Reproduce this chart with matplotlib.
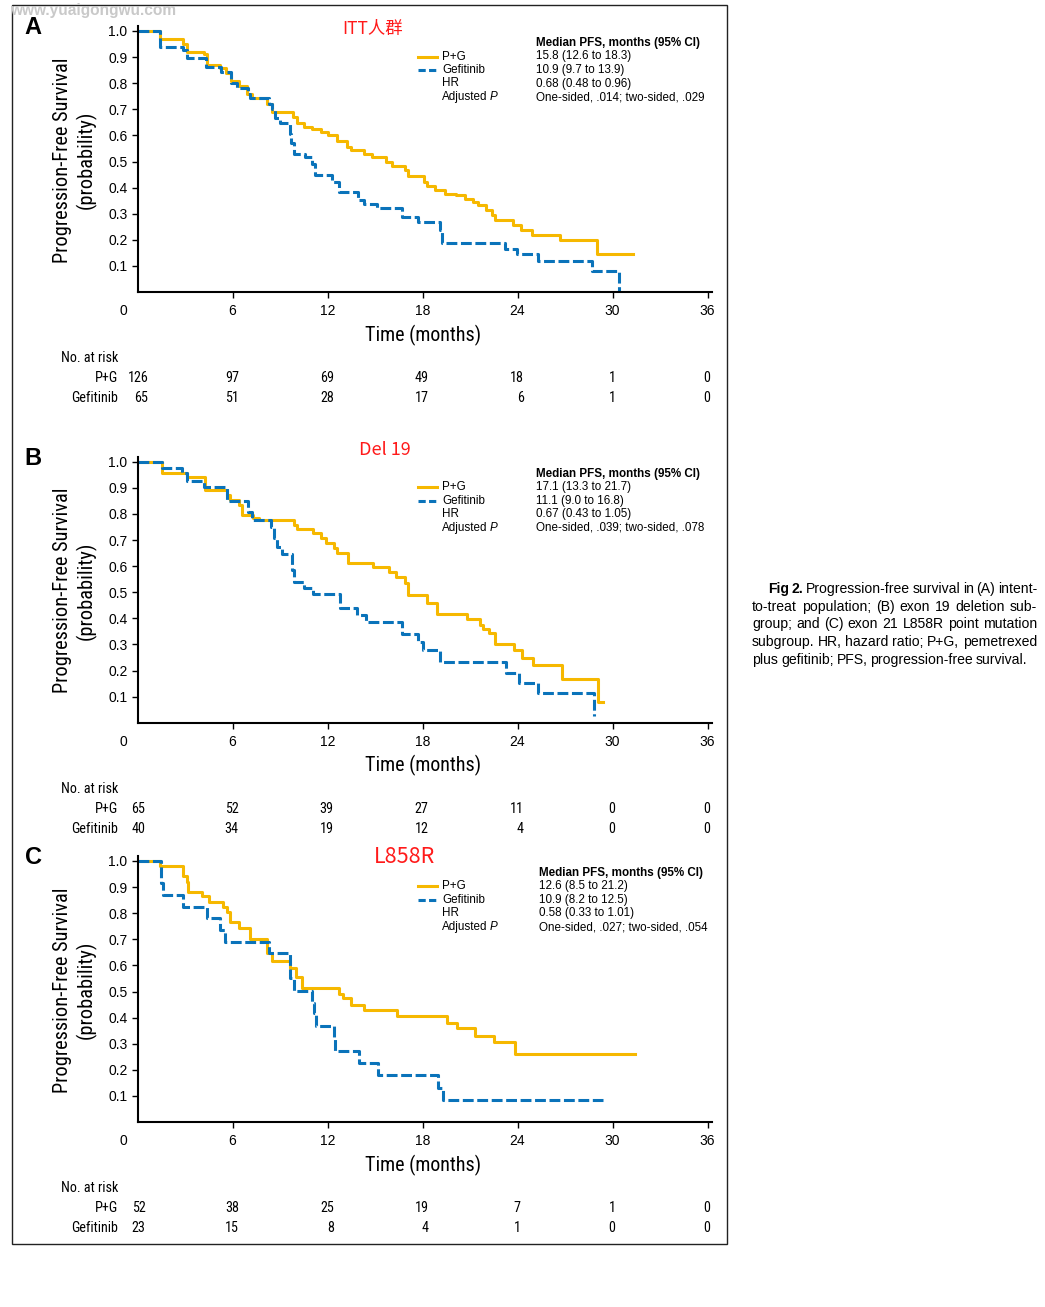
import numpy as np
import matplotlib
matplotlib.use('Agg')
import matplotlib.pyplot as plt
from matplotlib import font_manager as fm
from matplotlib.lines import Line2D
from matplotlib.patches import Rectangle

# ---- dati ----
risk_times = [0, 6, 12, 18, 24, 30, 36]

# A: ITT
itt_pg_t = [0, 1.42, 2.85, 3.1, 4.2, 4.4, 5.2, 5.6, 5.9, 6.4, 6.9, 7.2, 8.2, 8.5, 9.8, 10.1, 10.5,
            11.0, 11.6, 12.0, 12.6, 13.2, 13.5, 14.3, 14.8, 15.7, 16.1, 16.9, 17.1, 18.1, 18.3,
            18.8, 19.4, 20.1, 20.7, 21.2, 21.5, 22.0, 22.4, 22.6, 23.7, 24.2, 24.9, 26.7, 29.0, 31.3]
itt_pg_s = [1.0, 0.969, 0.95, 0.92, 0.91, 0.87, 0.857, 0.84, 0.81, 0.79, 0.76, 0.745, 0.72, 0.69,
            0.67, 0.646, 0.633, 0.625, 0.614, 0.60, 0.577, 0.556, 0.543, 0.528, 0.518, 0.499, 0.483,
            0.467, 0.445, 0.422, 0.407, 0.39, 0.377, 0.371, 0.358, 0.345, 0.332, 0.316, 0.294, 0.275,
            0.256, 0.237, 0.22, 0.198, 0.145, 0.145]
itt_gef_t = [0, 1.42, 2.85, 3.1, 4.3, 5.3, 5.9, 6.3, 7.0, 7.1, 8.3, 8.5, 8.7, 9.0, 9.6, 9.7, 9.9,
             10.6, 11.0, 11.2, 12.3, 12.7, 13.9, 14.3, 15.1, 16.7, 17.7, 19.1, 19.2, 23.2, 23.95,
             25.3, 28.7, 30.4, 30.4]
itt_gef_s = [1.0, 0.94, 0.927, 0.895, 0.863, 0.844, 0.80, 0.78, 0.76, 0.742, 0.72, 0.70, 0.665,
             0.646, 0.607, 0.57, 0.528, 0.518, 0.492, 0.448, 0.422, 0.384, 0.352, 0.336, 0.32,
             0.288, 0.269, 0.239, 0.189, 0.166, 0.145, 0.118, 0.079, 0.0, 0.0]
itt_risk_pg = [126, 97, 69, 49, 18, 1, 0]
itt_risk_gef = [65, 51, 28, 17, 6, 1, 0]
itt_stats = ['15.8 (12.6 to 18.3)', '10.9 (9.7 to 13.9)', '0.68 (0.48 to 0.96)',
             'One-sided, .014; two-sided, .029']

# B: Del 19
del_pg_t = [0, 1.52, 3.1, 4.27, 5.64, 5.86, 6.4, 6.6, 7.3, 7.65, 9.87, 10.1, 11.1, 11.6, 11.9, 12.4,
            12.6, 13.3, 14.9, 15.9, 16.3, 16.9, 17.1, 18.3, 18.9, 20.8, 21.6, 21.85, 22.2, 22.6,
            23.75, 24.3, 24.97, 26.8, 29.1, 29.4]
del_pg_s = [1.0, 0.955, 0.943, 0.89, 0.872, 0.853, 0.834, 0.796, 0.783, 0.776, 0.757, 0.741, 0.726,
            0.706, 0.687, 0.668, 0.651, 0.613, 0.598, 0.578, 0.559, 0.534, 0.489, 0.457, 0.416,
            0.397, 0.374, 0.358, 0.342, 0.30, 0.278, 0.246, 0.221, 0.166, 0.08, 0.08]
del_gef_t = [0, 1.52, 2.8, 3.1, 4.2, 5.64, 7.0, 7.2, 8.4, 8.6, 8.8, 9.1, 9.77, 9.9, 10.5, 11.1, 12.8,
             13.85, 14.4, 16.7, 17.7, 18.0, 19.1, 23.3, 24.1, 25.3, 28.8, 28.8]
del_gef_s = [1.0, 0.974, 0.955, 0.927, 0.902, 0.85, 0.808, 0.776, 0.751, 0.706, 0.674, 0.646, 0.585,
             0.54, 0.515, 0.493, 0.438, 0.413, 0.387, 0.34, 0.31, 0.278, 0.234, 0.189, 0.151, 0.112,
             0.025, 0.025]
del_risk_pg = [65, 52, 39, 27, 11, 0, 0]
del_risk_gef = [40, 34, 19, 12, 4, 0, 0]
del_stats = ['17.1 (13.3 to 21.7)', '11.1 (9.0 to 16.8)', '0.67 (0.43 to 1.05)',
             'One-sided, .039; two-sided, .078']

# C: L858R
l858_pg_t = [0, 1.42, 2.85, 3.1, 3.2, 4.1, 4.5, 5.4, 5.65, 5.86, 6.4, 7.1, 8.2, 8.5, 9.66, 9.98,
             10.4, 12.7, 13.0, 13.5, 14.3, 16.4, 19.55, 20.2, 21.3, 22.5, 23.85, 31.4]
l858_pg_s = [1.0, 0.982, 0.943, 0.921, 0.882, 0.866, 0.844, 0.825, 0.806, 0.767, 0.742, 0.70,
             0.649, 0.618, 0.589, 0.557, 0.515, 0.49, 0.474, 0.45, 0.429, 0.406, 0.381, 0.359,
             0.33, 0.305, 0.261, 0.261]
l858_gef_t = [0, 1.48, 1.63, 2.9, 4.4, 5.2, 5.5, 8.3, 9.66, 9.9, 11.0, 11.15, 11.3, 12.4, 12.5,
              14.0, 15.2, 19.0, 19.3, 29.4]
l858_gef_s = [1.0, 0.915, 0.87, 0.825, 0.78, 0.736, 0.69, 0.646, 0.55, 0.503, 0.455, 0.416, 0.368,
              0.32, 0.272, 0.227, 0.18, 0.129, 0.084, 0.084]
l858_risk_pg = [52, 38, 25, 19, 7, 1, 0]
l858_risk_gef = [23, 15, 8, 4, 1, 0, 0]
l858_stats = ['12.6 (8.5 to 21.2)', '10.9 (8.2 to 12.5)', '0.58 (0.33 to 1.01)',
              'One-sided, .027; two-sided, .054']

caption_lines = [
    'Progression-free survival in (A) intent-',
    'to-treat population; (B) exon 19 deletion sub-',
    'group; and (C) exon 21 L858R point mutation',
    'subgroup. HR, hazard ratio; P+G, pemetrexed',
    'plus gefitinib; PFS, progression-free survival.',
]

# ---- stile ----
YELLOW = '#F6B800'
BLUE = '#0A73BA'
SANS = 'Liberation Sans'
nomi = {f.name for f in fm.fontManager.ttflist}
NARROW = 'Liberation Sans'
for cand in ['Liberation Sans Narrow', 'Arial Narrow', 'Roboto Condensed', 'PT Sans Narrow',
             'Archivo Narrow', 'Barlow Semi Condensed']:
    if cand in nomi:
        NARROW = cand
        break
CJK = ['Noto Sans CJK SC', 'DejaVu Sans']

plt.rcParams['font.family'] = [SANS, 'DejaVu Sans']
plt.rcParams['lines.scale_dashes'] = False

W, H = 1045, 1307
fig = plt.figure(figsize=(W / 100, H / 100), dpi=100)
renderer = fig.canvas.get_renderer()

X0, X1 = 137.5, 712.3   # pixel dell'asse x (0 mesi e fine asse)
PPM = 15.83             # pixel per mese


def fx(x):
    return x / W


def fy(y):
    return 1 - y / H


def testo(x, y, s, **kw):
    return fig.text(fx(x), fy(y), s, **kw)


def pannello(yt, yb, lettera, titolo, tpos, tsize, pg_t, pg_s, gef_t, gef_s,
             stats, risk_pg, risk_gef, stat_x):
    ax = fig.add_axes([fx(X0), fy(yb), (X1 - X0) / W, (yb - yt) / H])
    ax.step(pg_t, pg_s, where='post', color=YELLOW, lw=2.2)
    ax.step(gef_t, gef_s, where='post', color=BLUE, lw=2.2, linestyle=(0, (7.8, 2.6)))
    ax.set_xlim(0, 36.3)
    ax.set_ylim(0, (yb - yt) / 261.0)
    ax.set_xticks([6, 12, 18, 24, 30, 36])
    ax.set_yticks(np.round(np.arange(0.1, 1.01, 0.1), 1))
    ax.set_yticklabels(['%.1f' % v for v in np.arange(0.1, 1.01, 0.1)])
    ax.tick_params(axis='both', direction='out', length=4, width=1, labelsize=10)
    ax.tick_params(axis='x', pad=4.8)
    ax.tick_params(axis='y', pad=3.2)
    for s in ['top', 'right']:
        ax.spines[s].set_visible(False)
    for s in ['left', 'bottom']:
        ax.spines[s].set_linewidth(1.5)

    testo(123, yb + 19, '0', fontsize=10, ha='center', va='center')
    testo(33, yt + 1.5, lettera, fontsize=17, fontweight='bold', ha='center', va='center')
    testo(tpos[0], tpos[1], titolo, fontsize=tsize, color='#FF1A1A', ha='center', va='center',
          family=CJK)
    ymid = (yt + yb) / 2 + 1
    testo(62, ymid, 'Progression-Free Survival', family=NARROW, fontsize=14.7,
          rotation=90, ha='center', va='center')
    testo(86, ymid, '(probability)', family=NARROW, fontsize=14.7,
          rotation=90, ha='center', va='center')
    testo(423, yb + 43, 'Time (months)', family=NARROW, fontsize=14.4,
          ha='center', va='center')

    # legenda
    testo(stat_x, yt + 17, 'Median PFS, months (95% CI)', fontsize=8.4, fontweight='bold',
          va='center')
    righe = [yt + 30.5, yt + 44.3, yt + 57.5, yt + 71.3]
    fig.add_artist(Line2D([fx(418), fx(437)], [fy(righe[0])] * 2, color=YELLOW, lw=2.2))
    fig.add_artist(Line2D([fx(418), fx(437)], [fy(righe[1])] * 2, color=BLUE, lw=2.2,
                          linestyle=(0, (5.2, 2.4))))
    testo(442, righe[0], 'P+G', fontsize=8.4, va='center')
    testo(442, righe[1], 'Gefitinib', fontsize=8.4, va='center')
    testo(442, righe[2], 'HR', fontsize=8.4, va='center')
    adj = testo(442, righe[3], 'Adjusted', fontsize=8.4, va='center')
    xp = 442 + adj.get_window_extent(renderer).width + 2.5
    testo(xp, righe[3], 'P', fontsize=8.4, va='center', style='italic')
    for r, s in zip(righe, stats):
        testo(stat_x, r, s, fontsize=8.4, va='center')

    # numeri a rischio
    testo(61, yb + 66, 'No. at risk', family=NARROW, fontsize=10.2, va='center')
    testo(118, yb + 86, 'P+G', family=NARROW, fontsize=10.2, va='center', ha='right')
    testo(118, yb + 106, 'Gefitinib', family=NARROW, fontsize=10.2, va='center', ha='right')
    for t, a, b in zip(risk_times, risk_pg, risk_gef):
        larg = max(len(str(a)), len(str(b)))
        xr = X0 + t * PPM + larg * 6.3 / 2 + (1.5 if t == 0 else 0)
        testo(xr, yb + 86, str(a), family=NARROW, fontsize=10.2, va='center', ha='right')
        testo(xr, yb + 106, str(b), family=NARROW, fontsize=10.2, va='center', ha='right')
    return ax


pannello(26, 292, 'A', 'ITT人群', (373, 29), 12.5, itt_pg_t, itt_pg_s, itt_gef_t, itt_gef_s,
         itt_stats, itt_risk_pg, itt_risk_gef, 536)
pannello(456.7, 722.7, 'B', 'Del 19', (385, 450), 13, del_pg_t, del_pg_s, del_gef_t, del_gef_s,
         del_stats, del_risk_pg, del_risk_gef, 536)
pannello(855.7, 1122, 'C', 'L858R', (404, 857), 15.5, l858_pg_t, l858_pg_s, l858_gef_t,
         l858_gef_s, l858_stats, l858_risk_pg, l858_risk_gef, 539)

# cornice
fig.add_artist(Rectangle((fx(12), fy(1244)), (727 - 12) / W, (1244 - 5) / H,
                         transform=fig.transFigure, fill=False, edgecolor='#222222', lw=1.0))
testo(10, 11, 'www.yuaigongwu.com', fontsize=11.2, fontweight='bold', color='#c9c9c9',
      va='center')


# didascalia giustificata
def riga_giustificata(parole, x0, x1, y, giustifica=True):
    oggetti = []
    for p, peso in parole:
        oggetti.append(testo(0, y, p, fontsize=10.1, fontweight=peso, va='center'))
    larghezze = [o.get_window_extent(renderer).width for o in oggetti]
    if giustifica and len(parole) > 1:
        gap = (x1 - x0 - sum(larghezze)) / (len(parole) - 1)
    else:
        gap = 3.0
    x = x0
    for o, w in zip(oggetti, larghezze):
        o.set_x(fx(x))
        x += w + gap


ys = [589, 607, 624.5, 642, 660]
for i, (riga, y) in enumerate(zip(caption_lines, ys)):
    parole = [(p, 'normal') for p in riga.split()]
    x0 = 752
    if i == 0:
        parole = [('Fig', 'bold'), ('2.', 'bold')] + parole
        x0 = 768
    riga_giustificata(parole, x0, 1037, y, giustifica=(i < len(caption_lines) - 1))

fig.savefig('out.png', dpi=100)
